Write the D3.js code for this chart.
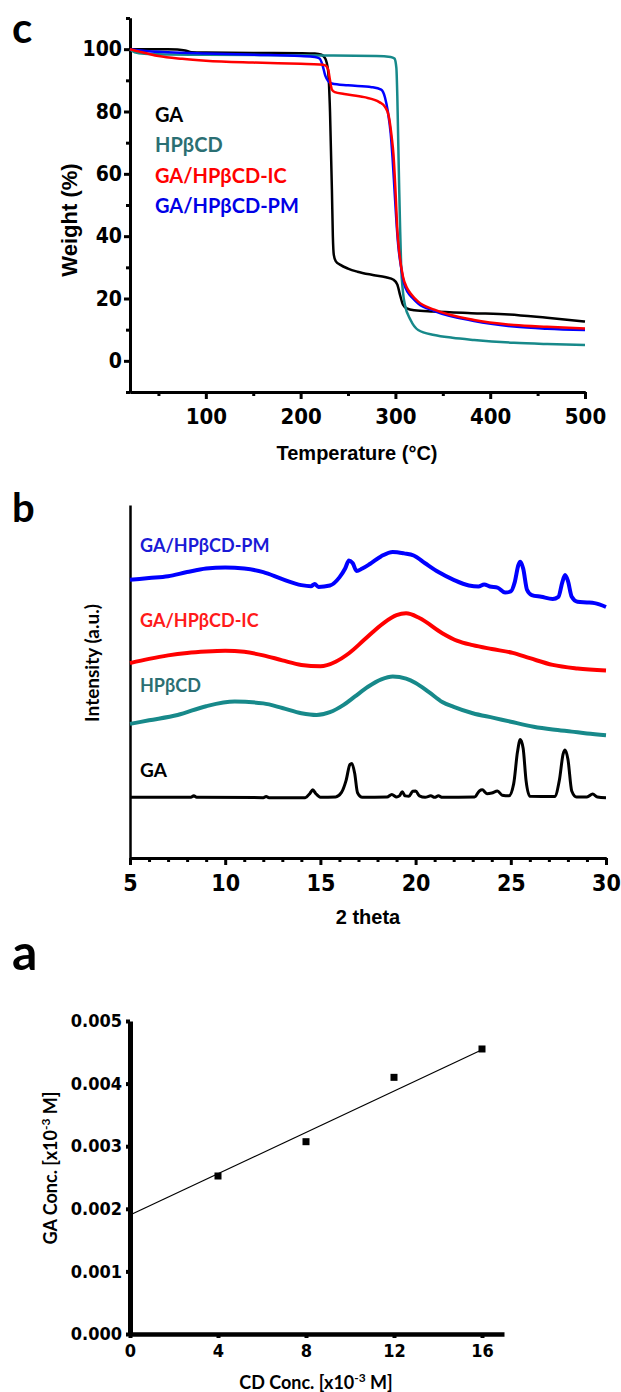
<!DOCTYPE html>
<html>
<head>
<meta charset="utf-8">
<script src="https://cdn.jsdelivr.net/npm/d3@7.9.0/dist/d3.min.js"></script>
<style>
  body { margin: 0; background: #fff; }
  svg { display: block; }
  .narrow { font-family: "Liberation Sans Narrow", "Arial Narrow", "DejaVu Sans Condensed", sans-serif; font-weight: bold; }
  .arial { font-family: "Liberation Sans", Arial, sans-serif; font-weight: bold; }
  .lato { font-family: Lato, "Open Sans", sans-serif; font-weight: bold; }
</style>
</head>
<body>
<svg id="fig" width="621" height="1392"></svg>
<script>
// ---- panel c: TGA (temperature °C, weight %) ----
const tgaGA = [[20,100],[60,100],[70,99.9],[78,99.6],[85,99],[100,98.9],[150,98.8],[200,98.7],[215,98.6],[222,98.2],[226,97],[229,93],[231,80],[233,55],[234,40],[235,34],[237,32],[242,30.8],[250,29.6],[260,28.6],[275,27.6],[290,26.8],[298,26],[302,24.5],[305,21],[308,18],[312,16.8],[320,16.2],[340,15.8],[380,15.3],[420,14.9],[460,13.8],[500,12.6]];
const tgaHP = [[20,100],[25,99],[35,98.5],[60,98.3],[100,98.2],[200,98],[280,97.8],[295,97.5],[299,97],[301,94],[302,85],[303,70],[304,55],[305,42],[306,31],[308,22],[310,18],[316,13.1],[324,9.9],[341,8.3],[360,7.4],[383,6.7],[425,5.8],[460,5.4],[500,5.1]];
const tgaIC = [[20,100],[30,99.2],[50,97.8],[75,96.9],[100,96.3],[150,95.7],[200,95.3],[220,95.1],[226,94.8],[229,93.5],[231,90],[233,87],[236,86.2],[246,85.6],[267,84.6],[283,83],[289,81.5],[293,78.5],[296,72],[298,66],[300,55],[302,42],[304,35],[308,27],[312,23.5],[316,21.6],[324,19],[341,16.4],[383,13.1],[425,11.5],[460,10.9],[500,10.4]];
const tgaPM = [[20,100],[40,99.3],[60,99],[100,98.6],[150,98.2],[200,97.8],[215,97.5],[220,97],[223,95],[226,91.5],[229,89.8],[233,89],[250,88.4],[275,87.8],[285,87],[289,84.5],[292,80],[295,73],[297,65],[299,55],[301,45],[303,37],[306,30],[309,25],[313,22],[318,20.2],[324,18.4],[341,16],[383,12.8],[425,11],[460,10.3],[500,9.9]];
const tgaXTicks = [100, 200, 300, 400, 500];
const tgaXMinor = [50, 150, 250, 350, 450];
const tgaYTicks = [0, 20, 40, 60, 80, 100];
const tgaYMinor = [-10, 10, 30, 50, 70, 90, 110];
const tgaLegend = ["GA", "HPβCD", "GA/HPβCD-IC", "GA/HPβCD-PM"];

// ---- panel b: XRD (2 theta, intensity a.u.) ----
const xrdPM = [[5,78.8],[6,79.3],[7,79.8],[8,81],[9,82],[10,82.3],[11,82],[12,81],[13,79],[14,77.3],[14.5,77],[14.7,77.6],[14.9,76.8],[15.5,77.2],[16,79.5],[16.3,82],[16.5,84.3],[16.7,83.5],[16.9,81.3],[17.2,82],[17.6,83.3],[18.2,85.5],[18.8,86.7],[19.4,86.3],[19.9,85.7],[20.5,83.5],[21.2,81],[22,78.8],[22.8,77.2],[23.3,76.9],[23.6,77.5],[23.9,76.9],[24.3,76.6],[24.7,75.2],[25.0,75.5],[25.2,78],[25.4,83],[25.5,83.9],[25.65,82],[25.85,76],[26.1,74.5],[26.6,74],[27.2,73.4],[27.5,74],[27.7,78],[27.85,80.2],[28.0,78.5],[28.2,74],[28.5,72.6],[29,72.4],[29.4,72.2],[30,71.1]];
const xrdIC = [[5,55.2],[6,56.4],[7,57.4],[8,58.1],[9,58.5],[10,58.7],[11,58.4],[12,57.4],[13,56],[14,54.7],[15,54.3],[15.8,55.6],[16.5,58],[17.3,61.8],[18.3,66.5],[19.0,68.8],[19.5,69.3],[20.2,68],[21.4,63.7],[22.2,61.5],[23,60.3],[24,59.2],[25.1,58.1],[26,56.6],[27.2,54.7],[28.5,53.7],[30,53.1]];
const xrdHP = [[5,38],[6,39],[7.5,40.5],[9,43],[10.5,44.3],[12,43.8],[13,42.5],[14,41],[14.8,40.5],[15.5,41.3],[16.2,43.3],[16.8,45.7],[17.5,48.5],[18.2,50.6],[18.8,51.4],[19.5,50.8],[20,49.6],[20.7,47],[21.4,44.2],[22,42.8],[23,41],[24.1,39.7],[25,38.6],[26.2,37.2],[27.2,36.4],[28.2,35.8],[29,35.3],[30,34.8]];
const xrdGA = [[5,17.2],[8.2,17.2],[8.35,17.6],[8.5,17.2],[12,17.1],[12.15,17.4],[12.3,17.1],[14.2,17.1],[14.45,18.3],[14.6,19.3],[14.75,18.3],[15,17.2],[15.8,17.3],[16.1,18.5],[16.35,22],[16.55,26.5],[16.65,26.8],[16.8,24],[16.95,18.5],[17.2,17.2],[18.5,17.3],[18.75,18],[19.0,17.3],[19.15,17.6],[19.3,18.8],[19.45,17.6],[19.65,17.5],[19.85,18.9],[20,19.0],[20.2,17.6],[20.5,17.2],[20.8,17.6],[21,17.2],[21.2,17.6],[21.4,17.2],[23.1,17.3],[23.35,19.0],[23.5,19.3],[23.75,18.2],[24.0,18.4],[24.3,19.0],[24.55,17.8],[24.9,17.6],[25.15,21],[25.35,30],[25.5,33.6],[25.65,31],[25.8,22],[26,17.5],[27.3,17.4],[27.55,22],[27.75,29.5],[27.85,30.6],[28,28],[28.2,19],[28.45,17.3],[29,17.3],[29.3,18.1],[29.55,17.3],[30,17.1]];
const xrdXTicks = [5, 10, 15, 20, 25, 30];
const xrdXMinor = d3.range(6, 30).filter(v => v % 5 !== 0);

// ---- panel a: phase solubility ----
const cdConc = [4, 8, 12, 16];
const gaConc = [0.002524, 0.003072, 0.0041, 0.004553];
const fitLine = [[0, 0.0019], [16, 0.00454]];
const solXTicks = [0, 4, 8, 12, 16];
const solYTicks = [0, 0.001, 0.002, 0.003, 0.004, 0.005];

const svg = d3.select("#fig");
svg.append("rect").attr("width", 621).attr("height", 1392).attr("fill", "#fff");

function styleAxis(g, width, fontSize, cls) {
  g.select(".domain").attr("stroke", "#000").attr("stroke-width", width);
  g.selectAll(".tick line").attr("stroke", "#000").attr("stroke-width", width);
  g.selectAll(".tick text").attr("class", cls).attr("font-size", fontSize).attr("fill", "#000");
  g.attr("font-family", null);
}

// ================= panel c =================
const xc = d3.scaleLinear().domain([20, 500]).range([130, 585]);
const yc = d3.scaleLinear().domain([-10, 110]).range([392, 18]);

svg.append("text").attr("class", "lato").attr("x", 12).attr("y", 43)
  .attr("font-size", 42).text("c");

const cx1 = svg.append("g").attr("transform", "translate(0,392)")
  .call(d3.axisBottom(xc).tickValues(tgaXMinor).tickSize(4).tickFormat("").tickSizeOuter(0));
styleAxis(cx1, 3, 21, "narrow");
const cx2 = svg.append("g").attr("transform", "translate(0,392)")
  .call(d3.axisBottom(xc).tickValues(tgaXTicks).tickSize(7).tickPadding(9).tickSizeOuter(0));
styleAxis(cx2, 3, 22, "narrow");
const cy1 = svg.append("g").attr("transform", "translate(130,0)")
  .call(d3.axisLeft(yc).tickValues(tgaYMinor).tickSize(4).tickFormat("").tickSizeOuter(0));
styleAxis(cy1, 3, 21, "narrow");
const cy2 = svg.append("g").attr("transform", "translate(130,0)")
  .call(d3.axisLeft(yc).tickValues(tgaYTicks).tickSize(6).tickPadding(2).tickSizeOuter(0));
styleAxis(cy2, 3, 21, "narrow");

const lineC = d3.line().x(d => xc(d[0])).y(d => yc(d[1])).curve(d3.curveMonotoneX);
const tgaSeries = [
  { data: tgaGA, color: "#000000" },
  { data: tgaHP, color: "#17898a" },
  { data: tgaPM, color: "#0000ff" },
  { data: tgaIC, color: "#ff0000" }
];
tgaSeries.forEach(s => {
  svg.append("path").datum(s.data).attr("d", lineC)
    .attr("fill", "none").attr("stroke", s.color).attr("stroke-width", 2.5);
});

const legendColors = ["#000000", "#2b6f73", "#ff0000", "#0000e6"];
tgaLegend.forEach((t, i) => {
  svg.append("text").attr("class", "lato").attr("x", 155).attr("y", 122 + i * 30.3)
    .attr("font-size", 20).attr("fill", legendColors[i]).text(t);
});

svg.append("text").attr("class", "arial").attr("font-size", 22)
  .attr("transform", "translate(77,220) rotate(-90)").attr("text-anchor", "middle")
  .text("Weight (%)");
svg.append("text").attr("class", "arial").attr("font-size", 20)
  .attr("x", 357).attr("y", 460).attr("text-anchor", "middle")
  .text("Temperature (°C)");

// ================= panel b =================
const xb = d3.scaleLinear().domain([5, 30]).range([130, 606]);
const yb = d3.scaleLinear().domain([0, 100]).range([858, 505]);

svg.append("text").attr("class", "lato").attr("x", 12).attr("y", 522)
  .attr("font-size", 40).text("b");

const bx1 = svg.append("g").attr("transform", "translate(0,858)")
  .call(d3.axisBottom(xb).tickValues(xrdXMinor).tickSize(4).tickFormat("").tickSizeOuter(0));
styleAxis(bx1, 3, 22, "narrow");
const bx2 = svg.append("g").attr("transform", "translate(0,858)")
  .call(d3.axisBottom(xb).tickValues(xrdXTicks).tickSize(7).tickPadding(10).tickSizeOuter(0));
styleAxis(bx2, 3, 23, "narrow");
const by = svg.append("g").attr("transform", "translate(130,0)")
  .call(d3.axisLeft(yb).tickValues([]).tickSizeOuter(0));
styleAxis(by, 2.5, 20, "narrow");

const lineB = d3.line().x(d => xb(d[0])).y(d => yb(d[1])).curve(d3.curveMonotoneX);
const xrdSeries = [
  { data: xrdGA, color: "#000000", w: 3 },
  { data: xrdHP, color: "#17898a", w: 4 },
  { data: xrdIC, color: "#ff0000", w: 4 },
  { data: xrdPM, color: "#0000ff", w: 4 }
];
xrdSeries.forEach(s => {
  svg.append("path").datum(s.data).attr("d", lineB)
    .attr("fill", "none").attr("stroke", s.color).attr("stroke-width", s.w)
    .attr("stroke-linejoin", "round");
});

const xrdLabels = [
  { t: "GA/HPβCD-PM", y: 552, c: "#1a1ad6", s: 18 },
  { t: "GA/HPβCD-IC", y: 627, c: "#ff1a1a", s: 18 },
  { t: "HPβCD", y: 692, c: "#2b6f73", s: 18 },
  { t: "GA", y: 777, c: "#000000", s: 19 }
];
xrdLabels.forEach(l => {
  svg.append("text").attr("class", "lato").attr("x", 140).attr("y", l.y)
    .attr("font-size", l.s).attr("fill", l.c).text(l.t);
});

svg.append("text").attr("class", "lato").attr("font-size", 19)
  .attr("transform", "translate(99,663) rotate(-90)").attr("text-anchor", "middle")
  .text("Intensity (a.u.)");
svg.append("text").attr("class", "arial").attr("font-size", 20)
  .attr("x", 368).attr("y", 924).attr("text-anchor", "middle")
  .text("2 theta");

// ================= panel a =================
const xa = d3.scaleLinear().domain([0, 17]).range([130, 504]);
const ya = d3.scaleLinear().domain([0, 0.005]).range([1334, 1021]);

svg.append("text").attr("class", "lato").attr("x", 12).attr("y", 970)
  .attr("font-size", 50).text("a");

const ax = svg.append("g").attr("transform", "translate(0,1334)")
  .call(d3.axisBottom(xa).tickValues(solXTicks).tickSize(4).tickPadding(6).tickSizeOuter(0));
styleAxis(ax, 4, 18, "narrow");
ax.select(".domain").attr("stroke-width", 4.5);
const ay = svg.append("g").attr("transform", "translate(130,0)")
  .call(d3.axisLeft(ya).tickValues(solYTicks).tickFormat(d3.format(".3f")).tickSize(4).tickPadding(4).tickSizeOuter(0));
styleAxis(ay, 4, 18, "narrow");
ay.select(".domain").attr("stroke-width", 5);

svg.append("path").datum(fitLine)
  .attr("d", d3.line().x(d => xa(d[0])).y(d => ya(d[1])))
  .attr("stroke", "#000").attr("stroke-width", 1.2).attr("fill", "none");

svg.selectAll("rect.pt").data(cdConc).enter().append("rect").attr("class", "pt")
  .attr("x", (d) => xa(d) - 3.5).attr("y", (d, i) => ya(gaConc[i]) - 3.5)
  .attr("width", 7).attr("height", 7).attr("fill", "#000");

const xLab = svg.append("text").attr("class", "lato").attr("font-size", 18)
  .attr("x", 316).attr("y", 1389).attr("text-anchor", "middle");
xLab.append("tspan").text("CD Conc. [x10");
xLab.append("tspan").attr("dy", -7).attr("font-size", 12).text("-3");
xLab.append("tspan").attr("dy", 7).text(" M]");

const yLab = svg.append("text").attr("class", "lato").attr("font-size", 18)
  .attr("transform", "translate(57,1168) rotate(-90)").attr("text-anchor", "middle");
yLab.append("tspan").text("GA Conc. [x10");
yLab.append("tspan").attr("dy", -7).attr("font-size", 12).text("-3");
yLab.append("tspan").attr("dy", 7).text(" M]");
</script>
</body>
</html>
